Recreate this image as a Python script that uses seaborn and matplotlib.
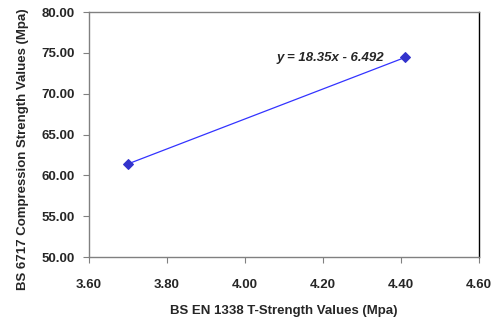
import matplotlib
matplotlib.use("Agg")
import matplotlib.pyplot as plt
import seaborn as sns
import pandas as pd

x_vals = [3.70, 4.41]
y_vals = [61.40, 74.43]
x_ticks = [3.60, 3.80, 4.00, 4.20, 4.40, 4.60]
y_ticks = [50.0, 55.0, 60.0, 65.0, 70.0, 75.0, 80.0]
equation = "y = 18.35x - 6.492"
x_label = "BS EN 1338 T-Strength Values (Mpa)"
y_label = "BS 6717 Compression Strength Values (Mpa)"

sns.set_theme(style="white")
plt.rcParams['font.family'] = ['Liberation Sans', 'DejaVu Sans']

df = pd.DataFrame({"x": x_vals, "y": y_vals})

fig = plt.figure(figsize=(4.94, 3.2), dpi=100)
ax = fig.add_axes([89/494, 1 - 257/320, (479-89)/494, (257-12)/320])
sns.lineplot(data=df, x="x", y="y", ax=ax, color="#3333FF", linewidth=0.9,
             marker="D", markersize=5.5, markerfacecolor="#3333CC",
             markeredgecolor="#3333CC")

ax.set_xlim(3.60, 4.60)
ax.set_ylim(50, 80)
ax.set_xticks(x_ticks)
ax.set_yticks(y_ticks)
ax.set_xticklabels([f"{v:.2f}" for v in x_ticks], fontsize=9.5, fontweight="bold")
ax.set_yticklabels([f"{v:.2f}" for v in y_ticks], fontsize=9.5, fontweight="bold")
ax.tick_params(axis="both", which="both", direction="out", length=4, width=0.8,
               color="#808080", bottom=True, left=True, pad=6)
ax.tick_params(axis="x", pad=12)
for s in ["left", "bottom", "top"]:
    ax.spines[s].set_color("#808080")
    ax.spines[s].set_linewidth(1.0)
ax.spines["right"].set_color("black")
ax.spines["right"].set_linewidth(1.0)

ax.set_xlabel(x_label, fontsize=9.5, fontweight="bold", labelpad=10)
ax.set_ylabel(y_label, fontsize=9.5, fontweight="bold", labelpad=12)
ax.yaxis.set_label_coords(-0.155, 0.44)

ax.text(4.08, 74.4, equation, fontsize=9.5, fontweight="bold", style="italic",
        ha="left", va="center")

fig.savefig("out.png", dpi=100)
